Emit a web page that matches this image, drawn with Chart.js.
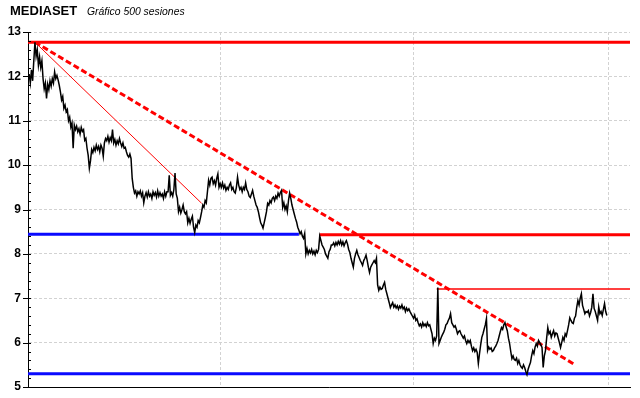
<!DOCTYPE html>
<html>
<head>
<meta charset="utf-8">
<script src="https://cdn.jsdelivr.net/npm/chart.js@4/dist/chart.umd.min.js"></script>
<style>
  html, body { margin: 0; padding: 0; background: #fff; }
  #wrap { position: relative; width: 640px; height: 398px; }
  .t { position: absolute; font-family: "Liberation Sans", Arial, sans-serif; color: #000; white-space: nowrap; }
  #name { left: 10px; top: 4px; font-size: 13px; line-height: 13px; font-weight: bold; }
  #sub { left: 87px; top: 6px; font-size: 10.4px; line-height: 11px; font-style: italic; }
</style>
</head>
<body>
<div id="wrap">
  <div class="t" id="name">MEDIASET</div>
  <div class="t" id="sub">Gráfico 500 sesiones</div>
  <canvas id="chart" width="640" height="398"></canvas>
</div>
<script>
// daily price, session 0..499
const prices = [
  12.05, 11.85, 12.15, 11.9, 12.35, 12.77, 12.45, 12.6, 12.25, 12.44,
  12.2, 12.35, 11.95, 11.72, 11.85, 11.5, 11.82, 11.7, 11.9, 11.78,
  11.95, 11.85, 12.1, 11.95, 12.02, 11.92, 11.8, 11.65, 11.47, 11.55,
  11.28, 11.35, 11.2, 11.25, 11.0, 11.08, 10.86, 10.95, 10.38, 10.9,
  10.8, 10.88, 10.75, 10.82, 10.7, 10.85, 10.76, 10.8, 10.56, 10.6,
  10.38, 10.22, 9.93, 10.1, 10.35, 10.28, 10.4, 10.32, 10.45, 10.35,
  10.42, 10.3, 10.45, 10.38, 10.2, 10.5, 10.6, 10.55, 10.65, 10.52,
  10.62, 10.55, 10.8, 10.5, 10.58, 10.45, 10.55, 10.48, 10.6, 10.5,
  10.42, 10.5, 10.38, 10.4, 10.3, 10.22, 10.18, 10.25, 10.15, 9.7,
  9.5, 9.37, 9.42, 9.3, 9.4, 9.35, 9.42, 9.3, 9.38, 9.15,
  9.3, 9.38, 9.28, 9.4, 9.3, 9.35, 9.25, 9.4, 9.32, 9.38,
  9.28, 9.42, 9.3, 9.38, 9.3, 9.35, 9.25, 9.4, 9.3, 9.4,
  9.4, 9.77, 9.32, 9.38, 9.3, 9.45, 9.82, 9.35, 9.25, 8.95,
  9.05, 8.92, 9.0, 9.1, 8.95, 8.9, 8.95, 8.7, 8.8, 8.69,
  8.78, 8.85, 8.6, 8.48, 8.65, 8.6, 8.75, 8.7, 8.82, 8.95,
  9.1, 9.05, 9.2, 9.15, 9.4, 9.66, 9.55, 9.7, 9.73, 9.58,
  9.65, 9.55, 9.7, 9.8, 9.5, 9.58, 9.5, 9.6, 9.48, 9.55,
  9.43, 9.5, 9.45, 9.55, 9.6, 9.45, 9.5, 9.4, 9.37, 9.5,
  9.73, 9.55, 9.45, 9.5, 9.4, 9.5, 9.45, 9.6, 9.45, 9.4,
  9.3, 9.27, 9.35, 9.43, 9.3, 9.2, 9.1, 9.05, 8.95, 8.82,
  8.7, 8.65, 8.58, 8.7, 8.82, 8.95, 9.14, 9.1, 9.2, 9.15,
  9.25, 9.28, 9.2, 9.3, 9.25, 9.37, 9.3, 9.38, 9.43, 9.05,
  9.15, 9.0, 9.08, 8.95, 9.2, 9.37, 9.25, 9.1, 9.0, 8.9,
  8.8, 8.72, 8.6, 8.53, 8.45, 8.5, 8.4, 8.35, 8.46, 8.0,
  8.12, 8.0, 8.08, 8.02, 8.1, 8.0, 8.06, 7.98, 8.08, 8.03,
  8.1, 8.4, 8.3, 8.2, 8.15, 8.1, 8.0, 7.95, 7.9, 8.05,
  8.1, 8.2, 8.2, 8.25, 8.18, 8.26, 8.2, 8.28, 8.22, 8.3,
  8.2, 8.27, 8.18, 8.25, 8.3, 8.22, 8.1, 8.03, 7.9, 7.8,
  7.7, 7.9, 8.0, 8.08, 7.98, 7.92, 7.85, 7.8, 7.74, 7.85,
  7.9, 7.97, 7.85, 7.7, 7.58, 7.7, 7.75, 7.8, 7.85, 7.8,
  7.9, 7.3, 7.18, 7.25, 7.2, 7.22, 7.3, 7.36, 7.2, 7.1,
  7.0, 6.9, 6.79, 6.85, 6.9, 6.8, 6.85, 6.78, 6.83, 6.75,
  6.82, 6.78, 6.85, 6.76, 6.8, 6.7, 6.78, 6.72, 6.76, 6.7,
  6.65, 6.6, 6.55, 6.62, 6.5, 6.54, 6.45, 6.38, 6.42, 6.35,
  6.45, 6.38, 6.42, 6.36, 6.45, 6.38, 6.4, 6.3, 6.2, 5.98,
  6.1, 6.05, 6.15, 7.24, 5.98, 6.05, 6.12, 6.18, 6.23, 6.3,
  6.4, 6.43, 6.5, 6.55, 6.65, 6.45, 6.4, 6.35, 6.38, 6.3,
  6.2, 6.25, 6.27, 6.2, 6.15, 6.1, 6.15, 6.05, 5.98, 6.05,
  6.0, 6.05, 5.92, 5.82, 5.88, 5.8, 5.85, 5.78, 5.53, 5.75,
  5.95, 6.12, 6.2, 6.3, 6.4, 6.54, 5.82, 5.9, 5.85, 5.88,
  5.8, 5.82, 5.88, 5.92, 5.98, 6.05, 6.15, 6.25, 6.34, 6.3,
  6.4, 6.45, 6.35, 6.27, 6.1, 5.98, 5.8, 5.64, 5.7, 5.62,
  5.6, 5.65, 5.53, 5.6, 5.5, 5.45, 5.42, 5.5, 5.44, 5.35,
  5.28, 5.4, 5.48, 5.55, 5.7, 5.82, 5.75, 5.9, 5.98, 5.92,
  6.05, 6.0, 5.95, 5.89, 5.44, 5.7, 5.82, 6.1, 6.34, 6.2,
  6.25, 6.12, 6.2, 6.27, 6.15, 6.22, 6.2, 6.1, 6.0, 5.89,
  6.0, 6.12, 6.05, 6.2, 6.15, 6.27, 6.4, 6.56, 6.5, 6.45,
  6.43, 6.55, 6.6, 6.8, 6.95, 6.85, 7.0, 7.1, 6.84, 6.75,
  6.65, 6.7, 6.68, 6.72, 6.6, 6.68, 6.8, 7.1, 6.77, 6.7,
  6.6, 6.5, 6.8, 6.65, 6.7, 6.61, 6.75, 6.88, 6.7, 6.61
];

// horizontal support / resistance levels (start session, end session, price)
const levelStart = [-1, -1, 251, 352, -1];
const levelEnd   = [519, 233, 519, 519, 519];
const levelValue = [12.77, 8.44, 8.43, 7.21, 5.30];

// trend lines [session, price]
const trendLong  = [[5, 12.77], [471, 5.51]];
const trendShort = [[5, 12.77], [149, 9.14]];

const yTicks = [5, 6, 7, 8, 9, 10, 11, 12, 13];
const xGrid = [165, 332, 500];

const lvl = (i) => [{ x: levelStart[i], y: levelValue[i] }, { x: levelEnd[i], y: levelValue[i] }];
const seg = (p) => p.map(([x, y]) => ({ x, y }));

const RED = '#ff0000';
const BLUE = '#0a0aff';
const GRID = '#d2d2d2';

// small axis ticks every 0.2, drawn across the y axis line
const minorTicks = {
  id: 'minorTicks',
  afterDraw(chart) {
    const { ctx, chartArea, scales } = chart;
    const y = scales.y;
    ctx.save();
    ctx.strokeStyle = '#000';
    ctx.lineWidth = 1;
    for (let k = 25; k <= 65; k++) {
      const py = Math.round(y.getPixelForValue(k / 5)) + 0.5;
      const major = k % 5 === 0;
      ctx.beginPath();
      ctx.moveTo(chartArea.left - (major ? 5 : 0), py);
      ctx.lineTo(chartArea.left + 3, py);
      ctx.stroke();
    }
    ctx.restore();
  }
};

new Chart(document.getElementById('chart'), {
  type: 'line',
  data: {
    datasets: [
      { data: prices.map((p, i) => ({ x: i, y: p })), borderColor: '#000', borderWidth: 1.5 },
      { data: seg(trendLong), borderColor: RED, borderWidth: 3, borderDash: [6, 3] },
      { data: seg(trendShort), borderColor: RED, borderWidth: 1 },
      { data: lvl(0), borderColor: RED, borderWidth: 3 },
      { data: lvl(1), borderColor: BLUE, borderWidth: 3 },
      { data: lvl(2), borderColor: RED, borderWidth: 3 },
      { data: lvl(3), borderColor: RED, borderWidth: 1.5 },
      { data: lvl(4), borderColor: BLUE, borderWidth: 3 }
    ]
  },
  options: {
    responsive: false,
    animation: false,
    devicePixelRatio: 1,
    layout: { padding: { top: 32, right: 10, bottom: 11, left: 0 } },
    elements: { point: { radius: 0 }, line: { tension: 0, borderCapStyle: 'butt' } },
    plugins: { legend: { display: false }, tooltip: { enabled: false } },
    scales: {
      x: {
        type: 'linear', min: -1, max: 519,
        afterFit(s) { s.height = 0; },
        afterBuildTicks(s) { s.ticks = xGrid.map(v => ({ value: v })); },
        ticks: { display: false },
        grid: { color: GRID, drawTicks: false },
        border: { color: '#000', width: 1, dash: [3, 2] }
      },
      y: {
        min: 5, max: 13,
        afterFit(s) { s.width = 28; },
        afterBuildTicks(s) { s.ticks = yTicks.map(v => ({ value: v })); },
        ticks: {
          padding: 0, color: '#000',
          font: { family: '"Liberation Sans", Arial, sans-serif', size: 12, weight: 'bold' }
        },
        grid: { color: GRID, drawTicks: true, tickLength: 7, tickColor: 'rgba(0,0,0,0)' },
        border: { color: '#000', width: 1, dash: [3, 2] }
      }
    }
  },
  plugins: [minorTicks]
});
</script>
</body>
</html>
